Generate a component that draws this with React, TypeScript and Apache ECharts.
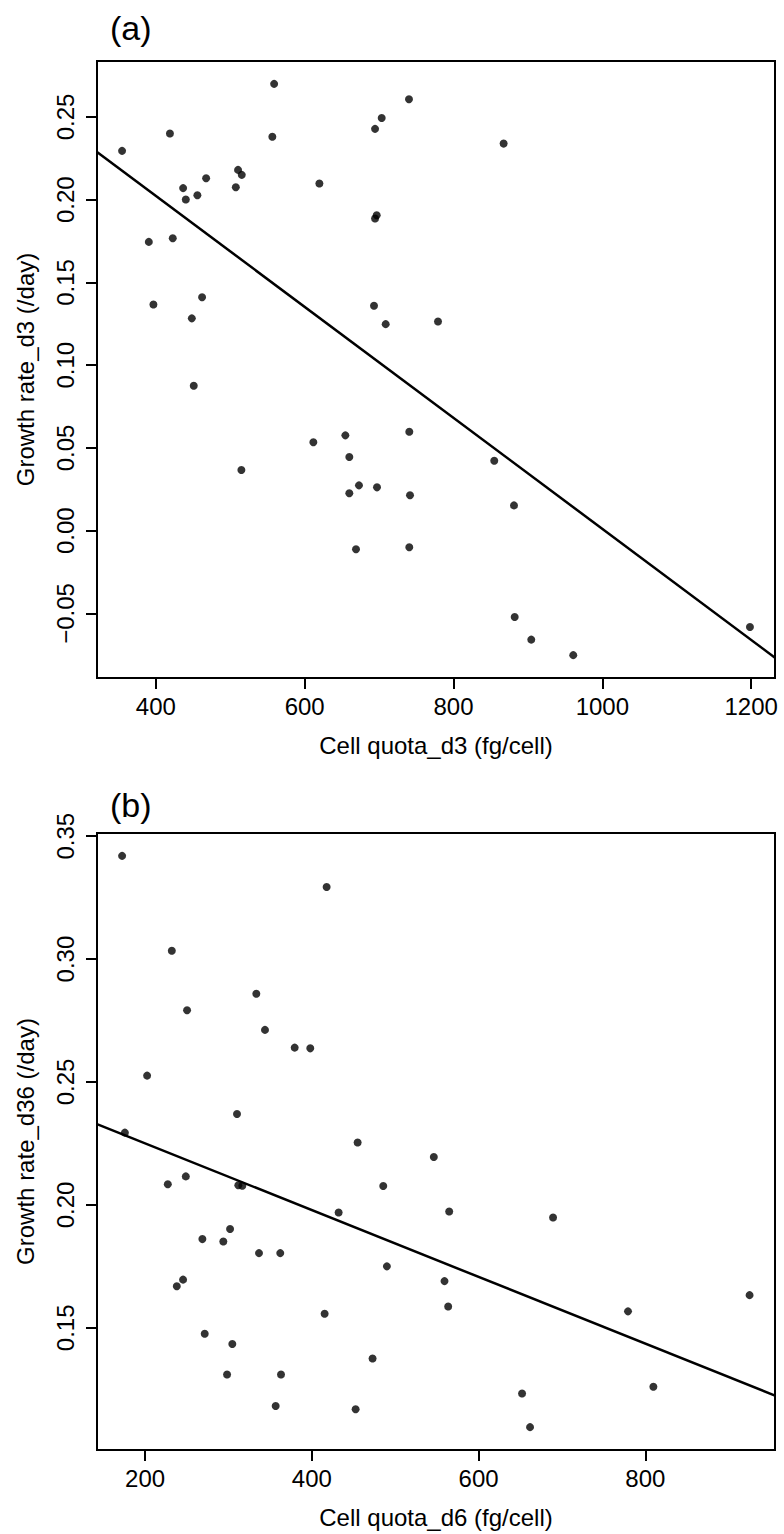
import React, { useEffect, useRef } from "react";
import * as echarts from "echarts";

// Panel (a): cell quota day 3 vs growth rate d3
const quotaD3 = [354.7, 419, 559, 556.6, 436.7, 440.3, 455.9, 467.6, 507.5, 510.5, 515.5, 619.8, 694.6, 703.5, 694.6, 696.8, 390.6, 422.8, 396.8, 462.2, 448.4, 693.2, 708.9, 740.2, 867.4, 779.2, 451, 515, 611.7, 654.7, 660, 660, 673, 697.2, 669, 740.6, 741.6, 740.6, 854.8, 881.3, 882.2, 904.5, 960.9, 1198.3];
const growthD3 = [0.2295, 0.24, 0.27, 0.238, 0.207, 0.2001, 0.2027, 0.213, 0.2075, 0.218, 0.215, 0.2098, 0.2428, 0.2494, 0.1886, 0.1906, 0.1745, 0.1767, 0.1367, 0.1411, 0.1283, 0.1359, 0.1248, 0.2607, 0.2339, 0.1264, 0.0876, 0.0367, 0.0534, 0.0576, 0.0445, 0.0226, 0.0274, 0.0262, -0.0112, 0.0598, 0.0214, -0.01, 0.0423, 0.0153, -0.0521, -0.0658, -0.0752, -0.0582];
const fitA = [0.3365, -0.0003354]; // intercept, slope
const xRangeA = [321, 1232];
const yRangeA = [-0.089, 0.2838];
const xTicksA = [400, 600, 800, 1000, 1200];
const yTicksA = [-0.05, 0, 0.05, 0.1, 0.15, 0.2, 0.25];

// Panel (b): cell quota day 6 vs growth rate d36
const quotaD6 = [172.4, 417.7, 232, 333.4, 250.3, 343.8, 379.4, 398.1, 202.4, 310.2, 175.7, 454.9, 227.2, 248.8, 311.8, 316.6, 485.6, 432.1, 268.7, 293.8, 301.9, 336.6, 362.1, 490, 245.5, 238, 415.3, 271.5, 304.6, 472.8, 298.3, 363, 356.6, 452.5, 546.3, 564.7, 689.3, 559.1, 563.5, 779.2, 925, 652.1, 661.7, 809.6];
const growthD36 = [0.342, 0.3293, 0.3034, 0.2859, 0.2792, 0.2712, 0.264, 0.2637, 0.2526, 0.237, 0.2294, 0.2254, 0.2084, 0.2116, 0.208, 0.2078, 0.2077, 0.1969, 0.1861, 0.1851, 0.1902, 0.1804, 0.1804, 0.175, 0.1696, 0.1669, 0.1557, 0.1476, 0.1434, 0.1375, 0.131, 0.131, 0.1182, 0.1169, 0.2195, 0.1973, 0.1949, 0.169, 0.1587, 0.1567, 0.1633, 0.1233, 0.1096, 0.126];
const fitB = [0.2522, -0.0001358];
const xRangeB = [142.3, 955.5];
const yRangeB = [0.1003, 0.3513];
const xTicksB = [200, 400, 600, 800];
const yTicksB = [0.15, 0.2, 0.25, 0.3, 0.35];

const FONT = "Liberation Sans";
const INK = "#000";

const fmtY = (v: number) => (v < 0 ? "\u2212" + Math.abs(v).toFixed(2) : v.toFixed(2));

function xAxisCfg(idx: number, range: number[], ticks: number[], name: string) {
  return {
    type: "value",
    gridIndex: idx,
    min: range[0],
    max: range[1],
    name,
    nameLocation: "middle",
    nameGap: 55,
    nameTextStyle: { fontFamily: FONT, fontSize: 24, color: INK },
    axisLine: { show: false, onZero: false },
    splitLine: { show: false },
    axisTick: { show: true, inside: false, length: 11, customValues: ticks, lineStyle: { color: INK, width: 2 } },
    axisLabel: { show: true, customValues: ticks, margin: 16, fontFamily: FONT, fontSize: 24, color: INK, formatter: (v: number) => String(v) },
  };
}

function yAxisCfg(idx: number, range: number[], ticks: number[], name: string) {
  return {
    type: "value",
    gridIndex: idx,
    min: range[0],
    max: range[1],
    name,
    nameLocation: "middle",
    nameGap: 60,
    nameRotate: 90,
    nameTextStyle: { fontFamily: FONT, fontSize: 24, color: INK },
    axisLine: { show: false, onZero: false },
    splitLine: { show: false },
    axisTick: { show: true, inside: false, length: 11, customValues: ticks, lineStyle: { color: INK, width: 2 } },
    axisLabel: { show: true, rotate: 90, customValues: ticks, margin: 20, fontFamily: FONT, fontSize: 24, color: INK, formatter: fmtY },
  };
}

function fitLine(fit: number[], range: number[]) {
  return range.map((x) => [x, fit[0] + fit[1] * x]);
}

export default function App() {
  const ref = useRef<HTMLDivElement>(null);
  useEffect(() => {
    if (!ref.current) return;
    const chart = echarts.init(ref.current, null, { renderer: "svg" });
    const gridBase = { left: 97, width: 678, height: 617, show: true, borderColor: INK, borderWidth: 2, backgroundColor: "transparent" };
    chart.setOption({
      animation: false,
      backgroundColor: "#fff",
      grid: [
        { ...gridBase, top: 61 },
        { ...gridBase, top: 833 },
      ],
      xAxis: [
        xAxisCfg(0, xRangeA, xTicksA, "Cell quota_d3 (fg/cell)"),
        xAxisCfg(1, xRangeB, xTicksB, "Cell quota_d6 (fg/cell)"),
      ],
      yAxis: [
        yAxisCfg(0, yRangeA, yTicksA, "Growth rate_d3 (/day)"),
        yAxisCfg(1, yRangeB, yTicksB, "Growth rate_d36 (/day)"),
      ],
      graphic: [
        { type: "text", left: 110, top: 11, style: { text: "(a)", fontFamily: FONT, fontSize: 34, fill: INK } },
        { type: "text", left: 110, top: 788, style: { text: "(b)", fontFamily: FONT, fontSize: 34, fill: INK } },
      ],
      series: [
        {
          type: "scatter",
          xAxisIndex: 0,
          yAxisIndex: 0,
          symbol: "circle",
          symbolSize: 8,
          itemStyle: { color: INK },
          data: quotaD3.map((x, i) => [x, growthD3[i]]),
        },
        {
          type: "line",
          xAxisIndex: 0,
          yAxisIndex: 0,
          showSymbol: false,
          symbol: "none",
          lineStyle: { color: INK, width: 2.5 },
          data: fitLine(fitA, xRangeA),
        },
        {
          type: "scatter",
          xAxisIndex: 1,
          yAxisIndex: 1,
          symbol: "circle",
          symbolSize: 8,
          itemStyle: { color: INK },
          data: quotaD6.map((x, i) => [x, growthD36[i]]),
        },
        {
          type: "line",
          xAxisIndex: 1,
          yAxisIndex: 1,
          showSymbol: false,
          symbol: "none",
          lineStyle: { color: INK, width: 2.5 },
          data: fitLine(fitB, xRangeB),
        },
      ],
    });
    return () => chart.dispose();
  }, []);
  return (
    <div
      ref={ref}
      style={{ position: "absolute", left: 0, top: 0, width: 784, height: 1534, background: "#fff" }}
    />
  );
}
